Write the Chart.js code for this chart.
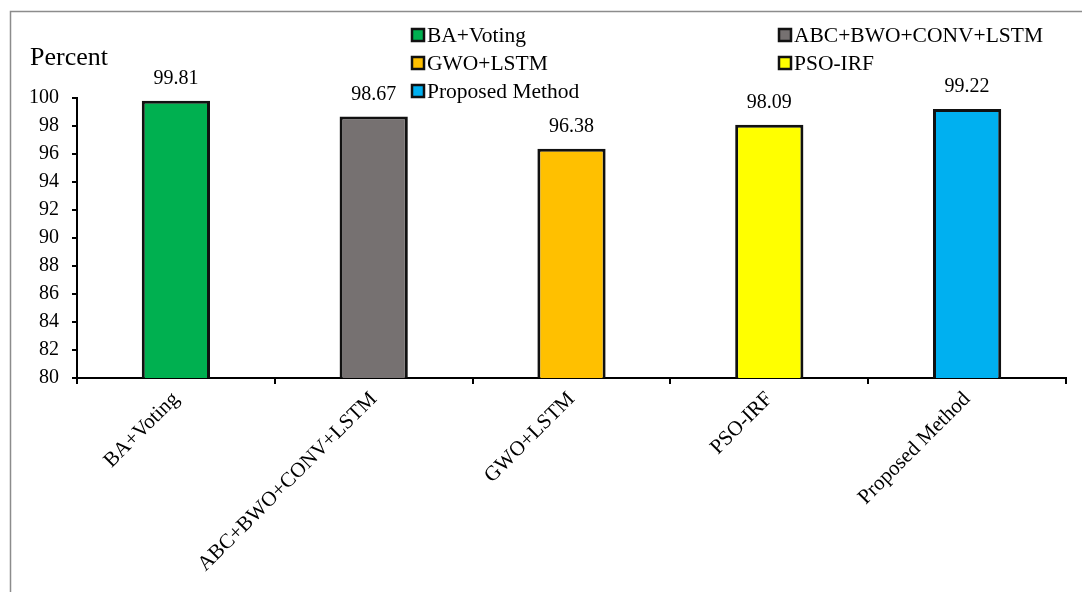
<!DOCTYPE html>
<html>
<head>
<meta charset="utf-8">
<script src="https://cdn.jsdelivr.net/npm/chart.js@4"></script>
<style>
  html, body { margin: 0; padding: 0; background: #fff; }
  #wrap { width: 1082px; height: 592px; position: relative; }
</style>
</head>
<body>
<div id="wrap"><canvas id="accuracy"></canvas></div>
<script>
const methods = ["BA+Voting", "ABC+BWO+CONV+LSTM", "GWO+LSTM", "PSO-IRF", "Proposed Method"];
const accuracy = [99.81, 98.67, 96.38, 98.09, 99.22];
const barColors = ["#00b050", "#767171", "#ffc000", "#ffff00", "#00b0f0"];
const yTicks = [80, 82, 84, 86, 88, 90, 92, 94, 96, 98, 100];

const SERIF = "'Liberation Serif', 'Times New Roman', serif";

// frame, axis title, value labels and the two-column legend
const decorations = {
  id: "decorations",
  beforeDraw(chart) {
    const { ctx } = chart;
    ctx.save();
    ctx.strokeStyle = "#8c8c8c";
    ctx.lineWidth = 1.5;
    ctx.beginPath();
    ctx.moveTo(10.5, 592);
    ctx.lineTo(10.5, 11.5);
    ctx.lineTo(1082, 11.5);
    ctx.stroke();
    ctx.restore();
  },
  afterDatasetsDraw(chart) {
    const { ctx } = chart;
    const meta = chart.getDatasetMeta(0);
    ctx.save();
    ctx.fillStyle = "#000";

    ctx.font = "26px " + SERIF;
    ctx.textAlign = "left";
    ctx.textBaseline = "alphabetic";
    ctx.fillText("Percent", 30, 65);

    ctx.font = "20px " + SERIF;
    ctx.textAlign = "center";
    ctx.textBaseline = "bottom";
    meta.data.forEach((bar, i) => {
      ctx.fillText(accuracy[i].toFixed(2), bar.x, bar.y - 12);
    });

    // legend: left column holds items 0,2,4 and right column items 1,3
    ctx.font = "21.5px " + SERIF;
    ctx.textAlign = "left";
    ctx.textBaseline = "alphabetic";
    methods.forEach((name, i) => {
      const x = i % 2 === 0 ? 412 : 779;
      const y = 35 + Math.floor(i / 2) * 28;
      ctx.fillStyle = barColors[i];
      ctx.fillRect(x, y - 6, 12, 12);
      ctx.strokeStyle = "#111";
      ctx.lineWidth = 2.5;
      ctx.strokeRect(x, y - 6, 12, 12);
      ctx.fillStyle = "#000";
      ctx.fillText(name, x + 15, y + 7);
    });
    ctx.restore();
  }
};

new Chart(document.getElementById("accuracy"), {
  type: "bar",
  data: {
    labels: methods,
    datasets: [{
      data: accuracy,
      backgroundColor: barColors,
      borderColor: "#111",
      borderWidth: 3,
      borderSkipped: false,
      categoryPercentage: 1,
      barPercentage: 0.345
    }]
  },
  options: {
    responsive: true,
    maintainAspectRatio: false,
    animation: false,
    layout: { padding: { top: 98, right: 16, left: 0, bottom: 0 } },
    plugins: {
      legend: { display: false },
      tooltip: { enabled: false }
    },
    scales: {
      x: {
        offset: true,
        grid: {
          offset: true,
          drawOnChartArea: false,
          drawTicks: true,
          tickLength: 6,
          color: "#000",
          lineWidth: 2
        },
        border: { color: "#000", width: 2 },
        ticks: {
          color: "#000",
          font: { family: SERIF, size: 21 },
          minRotation: 45,
          maxRotation: 45,
          padding: 3
        },
        afterFit(scale) { scale.height = 214; }
      },
      y: {
        min: 80,
        max: 100,
        afterBuildTicks(scale) { scale.ticks = yTicks.map(v => ({ value: v })); },
        grid: {
          drawOnChartArea: false,
          tickLength: 5,
          color: "#000",
          lineWidth: 2
        },
        border: { color: "#000", width: 2 },
        ticks: {
          color: "#000",
          font: { family: SERIF, size: 20 },
          padding: 13
        },
        afterFit(scale) { scale.width = 77; }
      }
    }
  },
  plugins: [decorations]
});
</script>
</body>
</html>
